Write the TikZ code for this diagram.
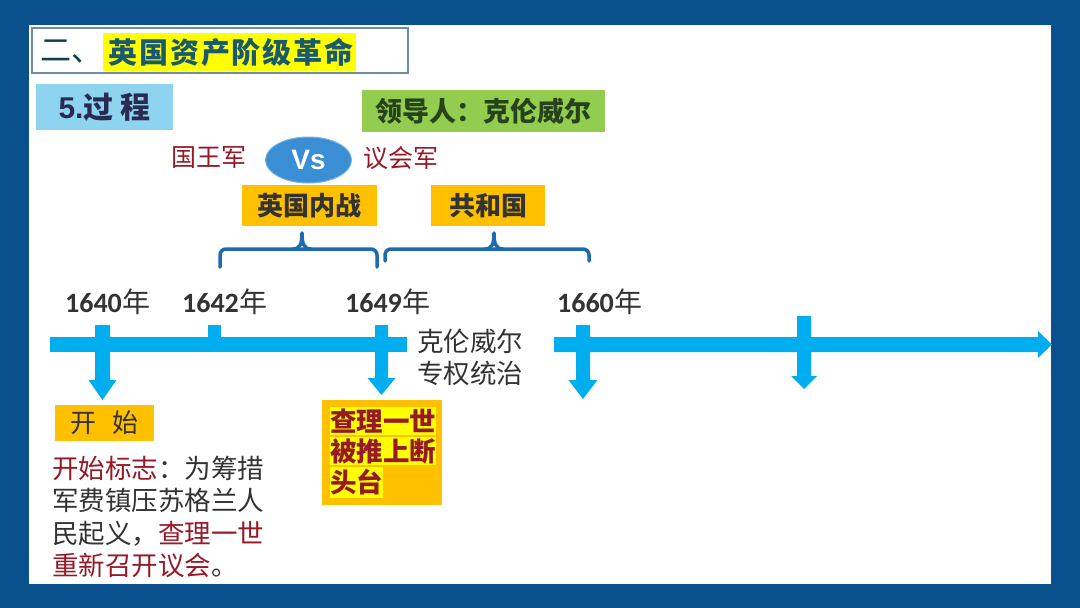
\documentclass[tikz,border=0pt]{standalone}
\usepackage{fontspec}
\setmainfont{Noto Sans CJK SC}
\newfontfamily\titlefont{Noto Sans CJK SC}[LetterSpace=6]
\newfontfamily\latinsans{Liberation Sans}
\newfontfamily\carl{Carlito}
\usetikzlibrary{shapes.geometric}
\newcommand\fsz[2]{\fontsize{#1}{#2}\selectfont}
\definecolor{bgblue}{RGB}{10,80,140}
\definecolor{tlcyan}{RGB}{0,174,239}
\definecolor{gold}{RGB}{255,192,0}
\definecolor{skyb}{RGB}{142,211,240}
\definecolor{leaf}{RGB}{146,205,80}
\definecolor{vsblue}{RGB}{58,143,212}
\definecolor{brk}{RGB}{28,106,178}
\definecolor{darkred}{RGB}{150,25,40}
\definecolor{txt}{RGB}{51,51,51}
\definecolor{titletxt}{RGB}{25,90,110}
\definecolor{titleline}{RGB}{108,140,168}
\definecolor{leadtxt}{RGB}{40,66,28}
\definecolor{hl}{RGB}{255,255,0}
\newcommand\tlarrow[6]{% x, top, base, tip, half stem, half head
  \fill[tlcyan] ({#1-#5},#2) -- ({#1+#5},#2) -- ({#1+#5},#3) -- ({#1+#6},#3) -- (#1,#4)
    -- ({#1-#6},#3) -- ({#1-#5},#3) -- cycle;}
\newcommand\yr[1]{{\carl\bfseries #1}\hspace{1pt}年}
\tikzset{
  boxnode/.style={inner sep=0pt, outer sep=0pt, anchor=north west, align=center},
  bracel/.style={draw=brk, line width=3.5pt, line cap=round, line join=round},
  yearlbl/.style={inner sep=0pt, text=txt, font=\fsz{28}{30}},
  bodytxt/.style={inner sep=0pt, anchor=base west, text=txt, font=\fsz{26.5}{33}},
  redline/.style={inner sep=0pt, outer sep=0pt, anchor=north west, fill=hl, text=darkred,
    font=\bfseries\fsz{26.5}{28}, minimum height=28pt},
}
\begin{document}
\begin{tikzpicture}[x=1pt,y=-1pt]
\useasboundingbox (0,0) rectangle (1080,608);
\fill[bgblue] (0,0) rectangle (1080,608);
\fill[white] (29,25) rectangle (1051,584);
% title
\node[boxnode, draw=titleline, line width=1.2pt, minimum width=376pt, minimum height=45pt] (title) at (32,28) {};
\node[inner sep=0pt, anchor=west, text=titletxt!70!black, font=\fsz{31}{33}] (t2) at (40,52) {二、};
\node[boxnode, fill=hl, minimum width=253pt, minimum height=38pt, text=titletxt, font=\titlefont\bfseries\fsz{29}{31}] (t3) at (103,33) {\hspace{3pt}英国资产阶级革命};
% section
\node[boxnode, fill=skyb, minimum width=137pt, minimum height=46pt, text=txt!85!blue, font=\bfseries\fsz{30}{32}] (sec) at (36,84) {{\latinsans 5.}过 程};
\node[boxnode, fill=leaf, minimum width=243pt, minimum height=42pt, text=leadtxt, font=\bfseries\fsz{27}{29}] (lead) at (362,90) {领导人：克伦威尔};
% vs
\node[inner sep=0pt, text=darkred, font=\fsz{25}{27}] (king) at (209,158) {国王军};
\node[ellipse, fill=vsblue, draw=vsblue!70!white, line width=1pt, minimum width=86pt, minimum height=46pt, inner sep=0pt, text=white, font=\latinsans\bfseries\fsz{28}{30}] (vs) at (308.5,160) {Vs};
\node[inner sep=0pt, text=darkred, font=\fsz{25}{27}] (parl) at (401,158) {议会军};
% period boxes
\node[boxnode, fill=gold, minimum width=135pt, minimum height=41pt, text=txt, font=\bfseries\fsz{26}{28}] (war) at (242,185) {英国内战};
\node[boxnode, fill=gold, minimum width=114pt, minimum height=41pt, text=txt, font=\bfseries\fsz{26}{28}] (rep) at (431,185) {共和国};
% braces
\coordinate (b1a) at (220,267); \coordinate (b1b) at (220,249); \coordinate (b1c) at (377,249); \coordinate (b1d) at (377,267);
\coordinate (b2a) at (385,261); \coordinate (b2b) at (385,249); \coordinate (b2c) at (589,249); \coordinate (b2d) at (589,261);
\draw[bracel, rounded corners=6pt] (b1a) -- (b1b) -- (b1c) -- (b1d);
\draw[bracel] (293,249) .. controls (300,249) and (302,244) .. (302,233) .. controls (302,244) and (304,249) .. (311,249);
\draw[bracel, rounded corners=6pt] (b2a) -- (b2b) -- (b2c) -- (b2d);
\draw[bracel] (485,249) .. controls (492,249) and (494,244) .. (494,233) .. controls (494,244) and (496,249) .. (503,249);
% years
\node[yearlbl] (y1640) at (108,302) {\yr{1640}};
\node[yearlbl] (y1642) at (225,302) {\yr{1642}};
\node[yearlbl] (y1649) at (388,302) {\yr{1649}};
\node[yearlbl] (y1660) at (600,302) {\yr{1660}};
% timeline
\fill[tlcyan] (50,337) rectangle (407,352);
\fill[tlcyan] (554,337) -- (1038,337) -- (1038,331) -- (1052,344.5) -- (1038,358) -- (1038,352) -- (554,352) -- cycle;
\tlarrow{102.5}{325}{380}{400}{7.5}{14}
\fill[tlcyan] (208,325) rectangle (221,340);
\tlarrow{381.5}{325}{378}{395}{6.5}{14}
\tlarrow{583}{325}{380}{399}{7}{14.5}
\tlarrow{804}{316}{376}{389}{7}{13}
% cromwell rule
\node[bodytxt] (cr1) at (417,351) {克伦威尔};
\node[bodytxt] (cr2) at (417,383) {专权统治};
% start
\node[boxnode, fill=gold, minimum width=99pt, minimum height=36pt, text=txt, font=\fsz{26}{28}] (start) at (55,405) {开\hspace{0.6em}始};
\node[bodytxt] (d1) at (52,478) {\textcolor{darkred}{开始标志}：为筹措};
\node[bodytxt] (d2) at (52,510) {军费镇压苏格兰人};
\node[bodytxt] (d3) at (52,543) {民起义，\textcolor{darkred}{查理一世}};
\node[bodytxt] (d4) at (52,575) {\textcolor{darkred}{重新召开议会}。};
% 1649 box
\node[boxnode, fill=gold, minimum width=120pt, minimum height=105pt] (exec) at (322,400) {};
\node[redline] (e1) at (330,407) {查理一世};
\node[redline] (e2) at (330,437) {被推上断};
\node[redline, minimum height=31pt] (e3) at (330,467) {头台};
\end{tikzpicture}
\end{document}
